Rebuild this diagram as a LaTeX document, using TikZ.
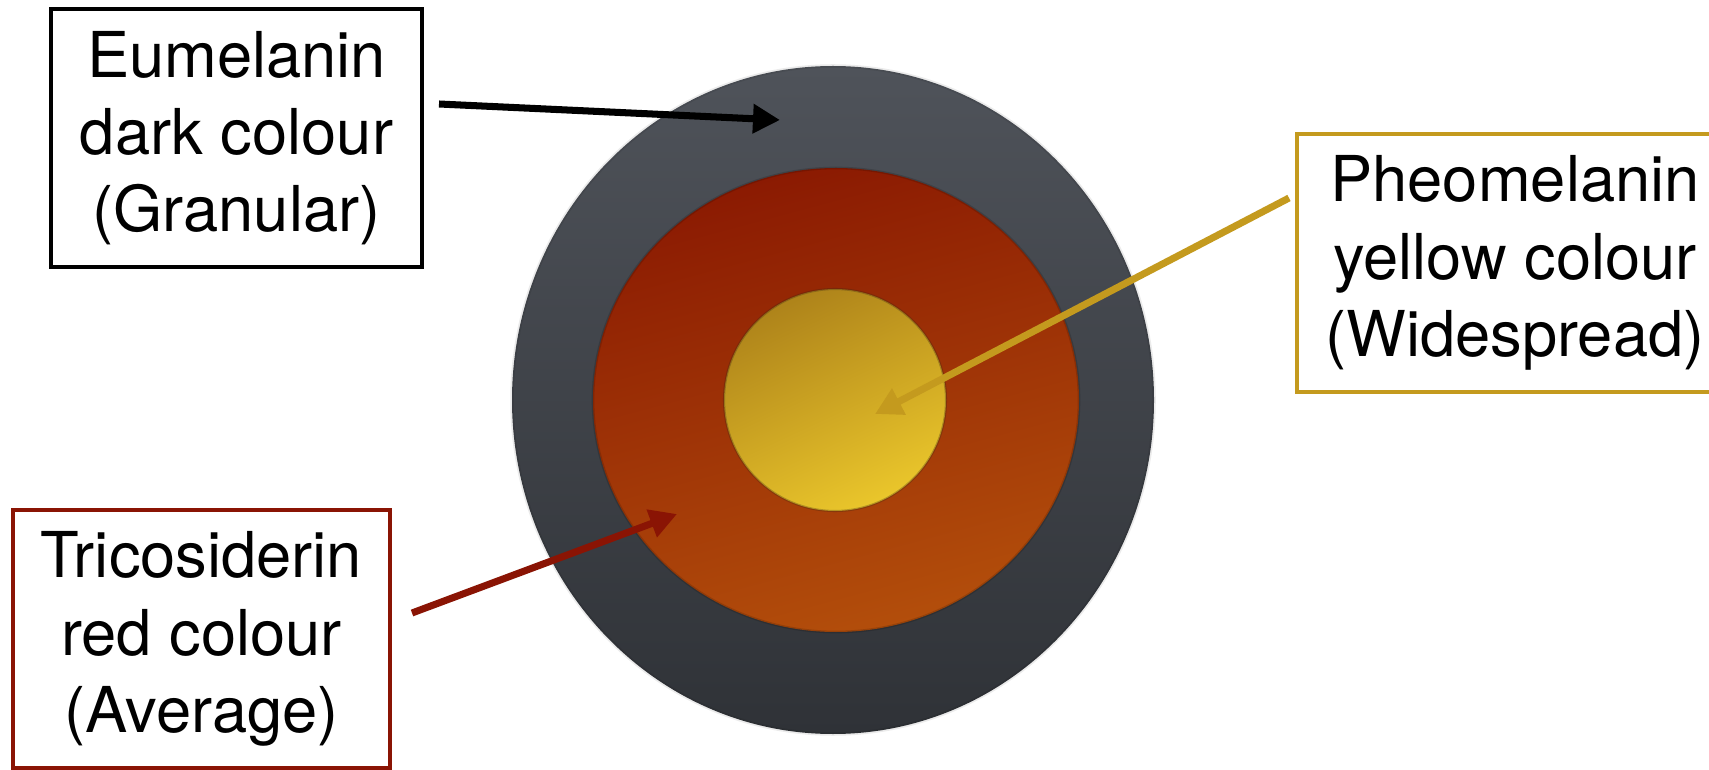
\documentclass[tikz,border=0pt]{standalone}
\usepackage{fontspec}
\setmainfont{TeX Gyre Heros}
\usepackage{tikz}
\usetikzlibrary{arrows.meta,calc,shapes.geometric}
\definecolor{eugray}{HTML}{4F535A}
\definecolor{eugraydark}{HTML}{2F3237}
\definecolor{trired}{HTML}{8B1A02}
\definecolor{triorange}{HTML}{B34E0B}
\definecolor{pheoyellow}{HTML}{AE831A}
\definecolor{pheolight}{HTML}{EAC62B}
\definecolor{pheoline}{HTML}{C49A1E}
\definecolor{triline}{HTML}{8A1404}

\begin{document}
\begin{tikzpicture}[
    labelbox/.style={draw, line width=2.2pt, fill=white, align=center,
      minimum height=5.16cm, inner sep=0pt,
      font=\fontsize{36}{44}\selectfont},
    pointer/.style={line width=4pt, -{Triangle[length=0.54cm, width=0.56cm]}}
  ]
  \useasboundingbox (0,0) rectangle (34.18,15.38);
  \clip (0,0) rectangle (34.18,15.38);

  % Draw the three layers of the hair section
  \node[ellipse, minimum width=12.84cm, minimum height=13.36cm, inner sep=0pt,
    top color=eugray, bottom color=eugraydark, draw=black, draw opacity=0.08, line width=2pt] (cortex) at (16.66,7.38) {};
  \node[ellipse, minimum width=9.72cm, minimum height=9.28cm, inner sep=0pt,
    top color=trired, bottom color=triorange, shading angle=15, draw=black, draw opacity=0.15, line width=1.5pt] (middle) at (16.72,7.38) {};
  \node[circle, minimum size=4.44cm, inner sep=0pt,
    top color=pheoyellow, bottom color=pheolight, shading angle=25, draw=black!70!brown, draw opacity=0.3, line width=1.2pt] (core) at (16.7,7.38) {};

  % Draw the label boxes
  \node[labelbox, minimum width=7.42cm] (EU) at (4.73,12.62) {Eumelanin\\dark colour\\(Granular)};
  \node[labelbox, minimum width=8.72cm, draw=pheoline] (PHEO) at (30.3,10.12) {Pheomelanin\\yellow colour\\(Widespread)};
  \node[labelbox, minimum width=7.54cm, draw=triline] (TRI) at (4.03,2.6) {Tricosiderin\\red colour\\(Average)};

  % Arrow ends
  \coordinate (EUstart) at (8.78,13.3);
  \coordinate (EUend) at (15.6,12.98);
  \coordinate (PHEOstart) at (25.78,11.42);
  \coordinate (PHEOend) at (17.5,7.1);
  \coordinate (TRIstart) at (8.24,3.12);
  \coordinate (TRIend) at (13.54,5.1);

  % Draw arrows from the boxes to the layers
  \draw[pointer, black] (EUstart) -- (EUend);
  \draw[pointer, pheoline] (PHEOstart) -- (PHEOend);
  \draw[pointer, triline] (TRIstart) -- (TRIend);
\end{tikzpicture}
\end{document}
